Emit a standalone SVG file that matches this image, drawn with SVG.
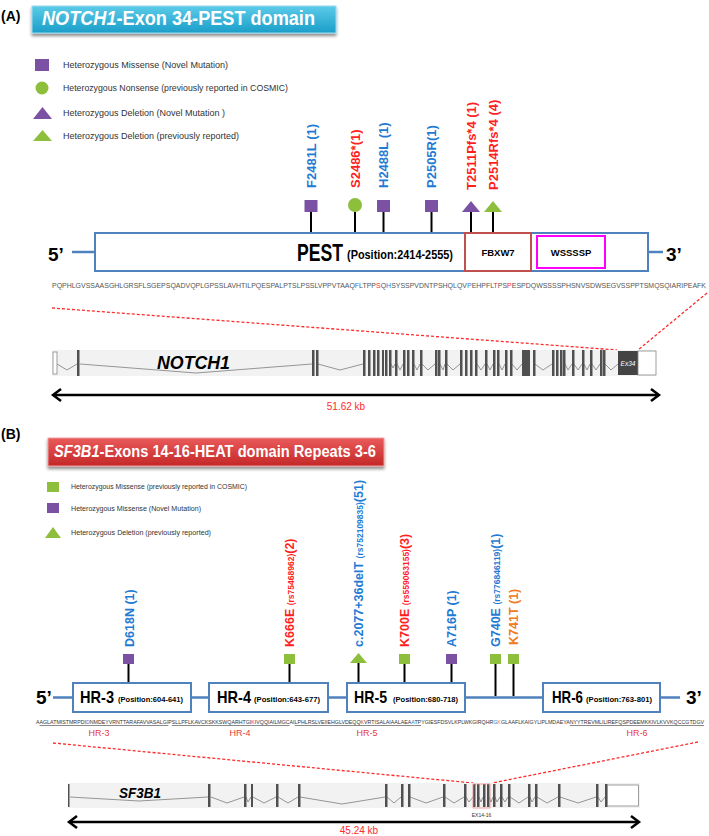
<svg xmlns="http://www.w3.org/2000/svg" width="709" height="836" viewBox="0 0 709 836">
<defs>
<linearGradient id="gA" x1="0" y1="0" x2="0" y2="1"><stop offset="0" stop-color="#5ccbe8"/><stop offset="1" stop-color="#1a9ec9"/></linearGradient>
<linearGradient id="gB" x1="0" y1="0" x2="0" y2="1"><stop offset="0" stop-color="#ea5a5a"/><stop offset="1" stop-color="#c42828"/></linearGradient>
<filter id="sh" x="-5%" y="-20%" width="110%" height="160%"><feDropShadow dx="0" dy="2.5" stdDeviation="1.5" flood-color="#000" flood-opacity="0.45"/></filter>
</defs>
<style>
text{font-family:"Liberation Sans",Arial,sans-serif}
.pl{font-size:14px;font-weight:bold;fill:#000}
.ttl{font-size:20px;font-weight:bold;fill:#fff}
.lg{font-size:9px;fill:#333}
.lgb{font-size:7.5px;fill:#333}
.ml{font-size:13px;font-weight:bold}
.mb{font-size:12.5px;font-weight:bold}
.rs{font-size:8.5px}
.blue{fill:#1f7bd3}
.red{fill:#ff1f1f}
.orange{fill:#f07a20}
.pur{fill:#7b51a4}
.grn{fill:#8dbf3c}
.stem{stroke:#000;stroke-width:2}
.bx{fill:#fff;stroke:#4f81bd;stroke-width:2}
.ln{stroke:#4f81bd;stroke-width:2.5}
.ex{fill:#505050}
.intr{fill:none;stroke:#8a8a8a;stroke-width:0.9}
.dash{stroke:#ff2a2a;stroke-width:1.3;stroke-dasharray:3 2;fill:none}
.arr{stroke:#000;stroke-width:2.5;fill:none}
.hrl{font-size:9px;fill:#e53a3a}
.hr{font-size:17px;font-weight:bold;fill:#000}
.pos{font-size:8px;font-weight:bold;fill:#000}
.end{font-size:19px;font-weight:bold;fill:#000}
.kb{font-size:10px;fill:#ff2a2a;text-anchor:middle}
</style>

<!-- ===== Panel A ===== -->
<text class="pl" x="1" y="21">(A)</text>
<g id="titleA">
<rect x="32" y="6" width="304" height="27" fill="url(#gA)" stroke="#9adcef" stroke-width="1" filter="url(#sh)"/>
<text class="ttl" x="42" y="25" textLength="273" lengthAdjust="spacingAndGlyphs"><tspan font-style="italic">NOTCH1</tspan>-Exon 34-PEST domain</text>
</g>

<g id="legendA">
<rect x="35" y="59" width="14" height="12" class="pur"/>
<text class="lg" x="63" y="68" textLength="165" lengthAdjust="spacingAndGlyphs">Heterozygous Missense (Novel Mutation)</text>
<circle cx="42" cy="88" r="6.5" class="grn"/>
<text class="lg" x="63" y="91" textLength="225" lengthAdjust="spacingAndGlyphs">Heterozygous Nonsense (previously reported in COSMIC)</text>
<polygon points="33,119 42.5,107 52,119" class="pur"/>
<text class="lg" x="63" y="116" textLength="162" lengthAdjust="spacingAndGlyphs">Heterozygous Deletion (Novel Mutation )</text>
<polygon points="33,141 42.5,130 52,141" class="grn"/>
<text class="lg" x="63" y="139" textLength="176" lengthAdjust="spacingAndGlyphs">Heterozygous Deletion (previously reported)</text>
</g>

<g id="connectorsA">
<line x1="311" y1="212" x2="311" y2="233" class="stem"/>
<line x1="355" y1="212" x2="355" y2="233" class="stem"/>
<line x1="383.5" y1="212" x2="383.5" y2="233" class="stem"/>
<line x1="431.5" y1="212" x2="431.5" y2="233" class="stem"/>
<line x1="471" y1="212" x2="471" y2="233" class="stem"/>
<line x1="493" y1="212" x2="493" y2="233" class="stem"/>
<line x1="72" y1="252" x2="95" y2="252" class="ln"/>
<line x1="648" y1="252" x2="663" y2="252" class="ln"/>
<line x1="52" y1="308" x2="617" y2="350" class="dash"/>
<line x1="707" y1="293" x2="638" y2="350" class="dash"/>
<line x1="54" y1="395" x2="658" y2="395" class="arr"/>
<polyline points="61,389 53,395 61,401" class="arr"/>
<polyline points="651,389 659,395 651,401" class="arr"/>
</g>

<g id="mutationsA">
<rect x="304.5" y="200" width="13" height="12" class="pur"/>
<circle cx="355" cy="205" r="7" class="grn"/>
<rect x="377" y="200" width="13" height="12" class="pur"/>
<rect x="425" y="200" width="13" height="12" class="pur"/>
<polygon points="462,212 471,201 480,212" class="pur"/>
<polygon points="484,212 493,201 502,212" class="grn"/>
<text class="ml blue" transform="translate(316,188) rotate(-90)">F2481L (1)</text>
<text class="ml red" transform="translate(360,188) rotate(-90)">S2486*(1)</text>
<text class="ml blue" transform="translate(388,188) rotate(-90)">H2488L (1)</text>
<text class="ml blue" transform="translate(436,188) rotate(-90)">P2505R(1)</text>
<text class="ml red" transform="translate(476,190) rotate(-90)">T2511Pfs*4 (1)</text>
<text class="ml red" transform="translate(498,190) rotate(-90)">P2514Rfs*4 (4)</text>
</g>

<g id="pest">
<rect x="95" y="233" width="553" height="38" class="bx"/>
<text x="297" y="261" font-size="23" font-weight="bold" textLength="46" lengthAdjust="spacingAndGlyphs">PEST</text>
<text x="347" y="259" font-size="12" font-weight="bold" textLength="106" lengthAdjust="spacingAndGlyphs">(Position:2414-2555)</text>
</g>
<g id="fbxw7">
<rect x="465" y="233" width="66" height="38" fill="#fff" stroke="#c0504d" stroke-width="2"/>
<text x="498" y="256" font-size="9.5" font-weight="bold" text-anchor="middle">FBXW7</text>
</g>
<g id="wssssp">
<rect x="537" y="236" width="68" height="32" fill="#fff" stroke="#ff00ff" stroke-width="2"/>
<text x="571" y="256" font-size="9.5" font-weight="bold" text-anchor="middle">WSSSSP</text>
</g>
<text class="end" x="48" y="261">5’</text>
<text class="end" x="666" y="261">3’</text>

<text x="52" y="288" font-family="Liberation Mono, monospace" font-size="7.5" fill="#555" textLength="654" lengthAdjust="spacingAndGlyphs">PQPHLGVSSAASGHLGRSFLSGEPSQADVQPLGPSSLAVHTILPQESPALPTSLPSSLVPPVTAAQ<tspan fill="#1f7bd3">F</tspan>LTPP<tspan fill="#ff1f1f">S</tspan>Q<tspan fill="#1f7bd3">H</tspan>SYSSPVDNTPSHQLQV<tspan fill="#1f7bd3">P</tspan>EHPFL<tspan fill="#ff1f1f">T</tspan>PS<tspan fill="#ff1f1f">P</tspan>ESPDQWSSSSPHSNVSDWSEGVSSPPTSMQSQIARIPEAFK</text>

<g id="geneA">
<rect x="52" y="350" width="604" height="26" fill="#f2f2f2"/>
<rect x="53" y="352" width="4" height="22" fill="#fff" stroke="#888" stroke-width="0.8"/>
<path class="intr" d="M57,364 L67,370 L77,364 M80,364 L196,373 L312,364 M318,364 L340,370 L363,364 M391,364 L393,368 L395,364 M397,364 L400,370 L403,364 M414,364 L417,370 L420,364 M422,364 L428,370 L435,364 M440,364 L443,370 L445,364 M447,364 L453,370 L460,364 M477,364 L481,370 L485,364 M487,364 L490,370 L493,364 M499,364 L502,370 L505,364 M512,364 L517,370 L522,364 M535,364 L543,370 L552,364 M565,364 L568,370 L572,364 M574,364 L578,370 L582,364 M584,364 L587,370 L590,364 M592,364 L596,370 L600,364 M605,364 L611,370 L618,364"/>
<g class="ex">
<rect x="77" y="350" width="2.5" height="26"/>
<rect x="312" y="350" width="2.5" height="26"/>
<rect x="316" y="350" width="2.5" height="26"/>
<rect x="363" y="350" width="2.5" height="26"/>
<rect x="368" y="350" width="2.5" height="26"/>
<rect x="373" y="350" width="2.5" height="26"/>
<rect x="377" y="350" width="2.5" height="26"/>
<rect x="382" y="350" width="2" height="26"/>
<rect x="385" y="350" width="2.5" height="26"/>
<rect x="389" y="350" width="2.5" height="26"/>
<rect x="395" y="350" width="2.5" height="26"/>
<rect x="403" y="350" width="2.5" height="26"/>
<rect x="407" y="350" width="2.5" height="26"/>
<rect x="412" y="350" width="2.5" height="26"/>
<rect x="420" y="350" width="2.5" height="26"/>
<rect x="435" y="350" width="2.5" height="26"/>
<rect x="438" y="350" width="2.5" height="26"/>
<rect x="445" y="350" width="2.5" height="26"/>
<rect x="460" y="350" width="2.5" height="26"/>
<rect x="465" y="350" width="2.5" height="26"/>
<rect x="470" y="350" width="2.5" height="26"/>
<rect x="475" y="350" width="2.5" height="26"/>
<rect x="485" y="350" width="2.5" height="26"/>
<rect x="493" y="350" width="2.5" height="26"/>
<rect x="497" y="350" width="2.5" height="26"/>
<rect x="505" y="350" width="2.5" height="26"/>
<rect x="510" y="350" width="2.5" height="26"/>
<rect x="522" y="350" width="8" height="26"/>
<rect x="533" y="350" width="2.5" height="26"/>
<rect x="552" y="350" width="2.5" height="26"/>
<rect x="556" y="350" width="2.5" height="26"/>
<rect x="560" y="350" width="2.5" height="26"/>
<rect x="563" y="350" width="2.5" height="26"/>
<rect x="572" y="350" width="2.5" height="26"/>
<rect x="582" y="350" width="2.5" height="26"/>
<rect x="590" y="350" width="2.5" height="26"/>
<rect x="600" y="350" width="2.5" height="26"/>
<rect x="603" y="350" width="2.5" height="26"/>
</g>
<rect x="618" y="351" width="20" height="24" fill="#444"/>
<rect x="638" y="351" width="18" height="24" fill="#fff" stroke="#888" stroke-width="0.8"/>
<text x="628" y="366" font-size="6.5" font-style="italic" fill="#fff" text-anchor="middle">Ex34</text>
<text x="157" y="369" font-size="18" font-weight="bold" font-style="italic" textLength="73" lengthAdjust="spacingAndGlyphs">NOTCH1</text>
</g>
<text class="kb" x="346" y="410">51.62 kb</text>

<!-- ===== Panel B ===== -->
<text class="pl" x="1" y="439">(B)</text>
<g id="titleB">
<rect x="48" y="438" width="336" height="28" fill="url(#gB)" stroke="#f0a0a0" stroke-width="1" filter="url(#sh)"/>
<text x="54" y="457" font-size="16" font-weight="bold" fill="#fff" textLength="322" lengthAdjust="spacingAndGlyphs"><tspan font-style="italic">SF3B1</tspan>-Exons 14-16-HEAT domain Repeats 3-6</text>
</g>

<g id="legendB">
<rect x="47" y="482" width="12" height="10" class="grn"/>
<text class="lgb" x="71" y="489" textLength="176" lengthAdjust="spacingAndGlyphs">Heterozygous Missense (previously reported in COSMIC)</text>
<rect x="47" y="503" width="12" height="10" class="pur"/>
<text class="lgb" x="71" y="511" textLength="130" lengthAdjust="spacingAndGlyphs">Heterozygous Missense (Novel Mutation)</text>
<polygon points="45,538 53,527 61,538" class="grn"/>
<text class="lgb" x="71" y="535" textLength="140" lengthAdjust="spacingAndGlyphs">Heterozygous Deletion (previously reported)</text>
</g>

<g id="connectorsB">
<line x1="53" y1="697.5" x2="680" y2="697.5" class="ln"/>
<line x1="128.5" y1="664" x2="128.5" y2="683" class="stem"/>
<line x1="289.5" y1="664" x2="289.5" y2="683" class="stem"/>
<line x1="358.5" y1="663" x2="358.5" y2="683" class="stem"/>
<line x1="404.5" y1="664" x2="404.5" y2="683" class="stem"/>
<line x1="451.5" y1="664" x2="451.5" y2="683" class="stem"/>
<line x1="495.5" y1="664" x2="495.5" y2="696" class="stem"/>
<line x1="513.5" y1="664" x2="513.5" y2="696" class="stem"/>
<line x1="53" y1="743" x2="473" y2="783" class="dash"/>
<line x1="698" y1="742" x2="492" y2="783" class="dash"/>
<line x1="70" y1="822" x2="638" y2="822" class="arr"/>
<polyline points="77,816 69,822 77,828" class="arr"/>
<polyline points="631,816 639,822 631,828" class="arr"/>
</g>

<g id="mutationsB">
<rect x="123" y="654" width="11" height="10" class="pur"/>
<rect x="284" y="654" width="11" height="10" class="grn"/>
<polygon points="350,663 358.5,653 367,663" class="grn"/>
<rect x="399" y="654" width="11" height="10" class="grn"/>
<rect x="446" y="654" width="11" height="10" class="pur"/>
<rect x="490" y="654" width="11" height="10" class="grn"/>
<rect x="508" y="654" width="11" height="10" class="grn"/>
<text class="mb blue" transform="translate(134,647) rotate(-90)">D618N (1)</text>
<text class="mb red" transform="translate(294,647) rotate(-90)">K666E <tspan class="rs">(rs75468962)</tspan>(2)</text>
<text class="mb blue" transform="translate(363,647) rotate(-90)">c.2077+36delT <tspan class="rs">(rs752109835)</tspan>(51)</text>
<text class="mb red" transform="translate(409,647) rotate(-90)">K700E <tspan class="rs">(rs559063155)</tspan>(3)</text>
<text class="mb blue" transform="translate(456,647) rotate(-90)">A716P (1)</text>
<text class="mb blue" transform="translate(500,647) rotate(-90)">G740E <tspan class="rs">(rs776846119)</tspan>(1)</text>
<text class="mb orange" transform="translate(518,645) rotate(-90)">K741T (1)</text>
</g>

<g id="hr3">
<rect x="73" y="683" width="118" height="29" class="bx"/>
<text class="hr" x="80" y="703" textLength="34" lengthAdjust="spacingAndGlyphs">HR-3</text>
<text class="pos" x="118" y="702" textLength="65" lengthAdjust="spacingAndGlyphs">(Position:604-641)</text>
</g>
<g id="hr4">
<rect x="209" y="683" width="119" height="29" class="bx"/>
<text class="hr" x="217" y="703" textLength="34" lengthAdjust="spacingAndGlyphs">HR-4</text>
<text class="pos" x="254" y="702" textLength="66" lengthAdjust="spacingAndGlyphs">(Position:643-677)</text>
</g>
<g id="hr5">
<rect x="347" y="683" width="118" height="29" class="bx"/>
<text class="hr" x="354" y="703" textLength="33" lengthAdjust="spacingAndGlyphs">HR-5</text>
<text class="pos" x="393" y="702" textLength="65" lengthAdjust="spacingAndGlyphs">(Position:680-718)</text>
</g>
<g id="hr6">
<rect x="543" y="683" width="117" height="29" class="bx"/>
<text class="hr" x="552" y="703" textLength="31" lengthAdjust="spacingAndGlyphs">HR-6</text>
<text class="pos" x="586" y="702" textLength="66" lengthAdjust="spacingAndGlyphs">(Position:763-801)</text>
</g>
<text class="end" x="36" y="704" font-size="17">5’</text>
<text class="end" x="686" y="704" font-size="17">3’</text>

<text x="36" y="724" font-size="5.8" fill="#333" textLength="668" lengthAdjust="spacingAndGlyphs">A<tspan text-decoration="underline">AGLATMISTMRPDI<tspan fill="#1f7bd3">D</tspan>NMDEYVRNTTARAFAVVASALGI</tspan>P<tspan text-decoration="underline">SLLPFLKAVCKSKKSWQARHTGI<tspan fill="#ff1f1f">K</tspan>IVQQIAILMGC</tspan>AI<tspan text-decoration="underline">LPHLRSLVEIIEHGLVDEQQ<tspan fill="#ff1f1f">K</tspan>VRTISALAIAALAEA<tspan fill="#1f7bd3">A</tspan>TP</tspan>YGIESFDSVLKPLWKGIRQHR<tspan fill="#1f7bd3">G</tspan><tspan fill="#f07a20">K</tspan>GLAAFLKAIGYLIPLMDAEYA<tspan text-decoration="underline">NYYTREVMLILIREFQSPDEEMKKIVLKVVKQCCGTDGV</tspan></text>
<text class="hrl" x="99" y="736" text-anchor="middle">HR-3</text>
<text class="hrl" x="240" y="736" text-anchor="middle">HR-4</text>
<text class="hrl" x="367" y="736" text-anchor="middle">HR-5</text>
<text class="hrl" x="637" y="736" text-anchor="middle">HR-6</text>

<g id="geneB">
<rect x="68" y="783" width="572" height="25" fill="#f2f2f2"/>
<path class="intr" d="M70,797 L139,801 L208,797 M211,797 L227,803 L244,797 M246,797 L248,802 L251,797 M253,797 L264,803 L276,797 M278,797 L288,803 L298,797 M300,797 L342,804 L385,797 M387,797 L394,803 L401,797 M410,797 L426,803 L443,797 M445,797 L454,803 L464,797 M466,797 L469,802 L473,797 M479,797 L481,802 L483,797 M489,797 L491,802 L493,797 M495,797 L497,802 L500,797 M502,797 L505,802 L508,797 M510,797 L519,803 L528,797 M530,797 L532,802 L535,797 M537,797 L547,803 L558,797 M560,797 L578,803 L596,797 M598,797 L601,802 L605,797"/>
<g class="ex">
<rect x="68" y="784" width="1.5" height="23"/>
<rect x="208" y="784" width="2.5" height="23"/>
<rect x="244" y="784" width="2.5" height="23"/>
<rect x="251" y="784" width="2" height="23"/>
<rect x="276" y="784" width="2.5" height="23"/>
<rect x="298" y="784" width="2.5" height="23"/>
<rect x="385" y="784" width="2.5" height="23"/>
<rect x="401" y="784" width="2.5" height="23"/>
<rect x="408" y="784" width="2.5" height="23"/>
<rect x="443" y="784" width="2.5" height="23"/>
<rect x="464" y="784" width="2.5" height="23"/>
<rect x="473" y="784" width="2.5" height="23"/>
<rect x="477" y="784" width="2.5" height="23"/>
<rect x="483" y="784" width="2.5" height="23"/>
<rect x="487" y="784" width="2.5" height="23"/>
<rect x="493" y="784" width="2.5" height="23"/>
<rect x="500" y="784" width="2.5" height="23"/>
<rect x="508" y="784" width="2.5" height="23"/>
<rect x="528" y="784" width="2.5" height="23"/>
<rect x="535" y="784" width="2.5" height="23"/>
<rect x="558" y="784" width="2.5" height="23"/>
<rect x="596" y="784" width="2.5" height="23"/>
<rect x="605" y="784" width="2.5" height="23"/>
</g>
<rect x="607.5" y="785" width="31" height="21" fill="#fff" stroke="#888" stroke-width="0.8"/>
<rect x="473" y="784" width="17" height="24" fill="none" stroke="#f08a8a" stroke-width="0.8"/>
<text x="481.5" y="817" font-size="5" fill="#333" text-anchor="middle">EX14-16</text>
<text x="119" y="798" font-size="15" font-weight="bold" font-style="italic" textLength="42" lengthAdjust="spacingAndGlyphs">SF3B1</text>
</g>
<text class="kb" x="359" y="834">45.24 kb</text>
</svg>
